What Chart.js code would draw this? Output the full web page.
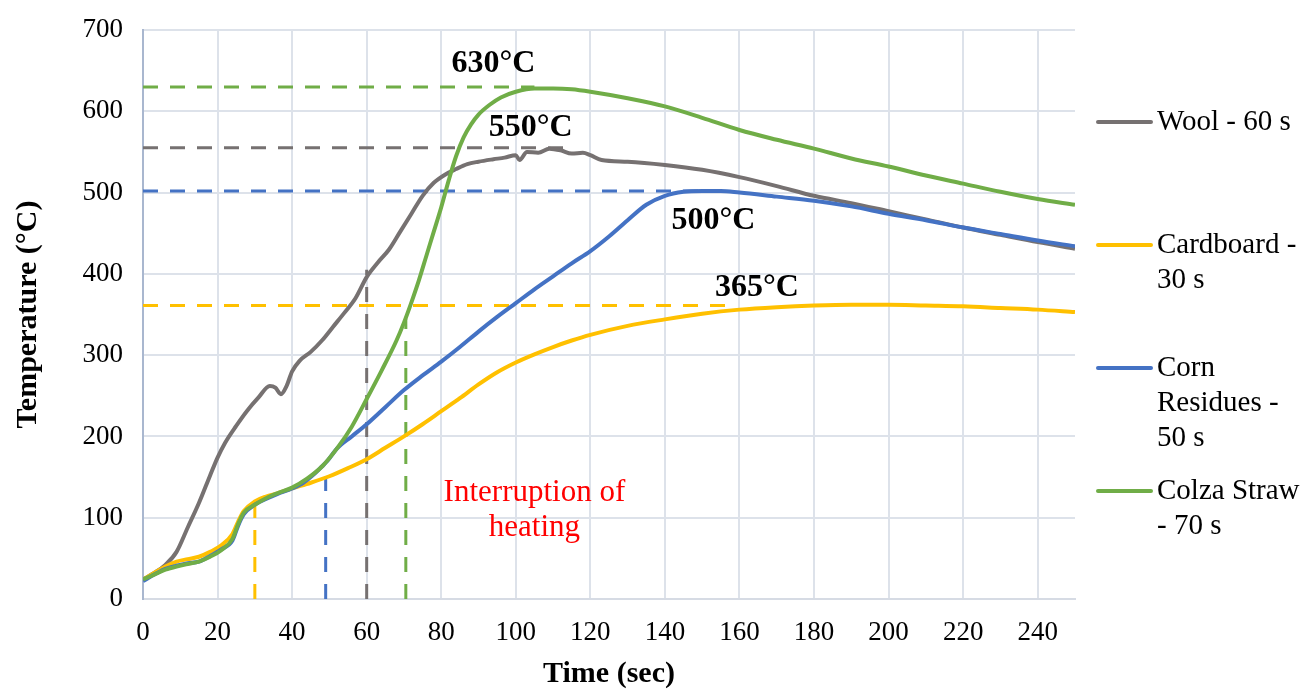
<!DOCTYPE html>
<html>
<head>
<meta charset="utf-8">
<script src="https://cdn.jsdelivr.net/npm/chart.js@4.4.1/dist/chart.umd.min.js"></script>
<style>
  body { margin: 0; background: #ffffff; }
  #wrap { width: 1304px; height: 689px; }
</style>
</head>
<body>
<div id="wrap"><canvas id="tempChart" width="1304" height="689"></canvas></div>
<script>
// Données (temps en s, température en °C)
const woolTime = [0, 3, 6, 9, 12, 15, 18, 20, 22, 25, 28, 31, 34, 35.5, 37, 38.5, 40, 42, 45, 48, 51, 54, 57, 60, 63, 66, 69, 72, 75, 78, 81, 84, 87, 90, 94, 97, 100, 101, 103, 106, 109, 112, 115, 118, 120, 123, 130, 140, 150, 160, 170, 180, 190, 200, 210, 220, 230, 240, 250];
const woolTemp = [24, 32, 42, 58, 88, 118, 152, 174, 192, 213, 232, 248, 262, 260, 252, 262, 280, 293, 304, 318, 335, 352, 370, 396, 414, 430, 452, 474, 496, 512, 522, 529, 535, 538, 541, 543, 546, 540, 550, 549, 554, 552, 548, 549, 546, 540, 538, 534, 528, 519, 508, 496, 487, 477, 467, 457, 448, 439, 431];

const cardboardTime = [0, 3, 6, 9, 12, 15, 18, 21, 24, 25.5, 27, 30, 33, 36, 40, 45, 50, 55, 60, 65, 70, 75, 80, 85, 90, 95, 100, 105, 110, 115, 120, 130, 140, 150, 160, 170, 180, 190, 200, 210, 220, 230, 240, 250];
const cardboardTemp = [24, 32, 40, 46, 49, 52, 58, 66, 80, 95, 108, 120, 126, 130, 136, 143, 151, 161, 172, 186, 200, 215, 231, 247, 264, 279, 291, 301, 310, 318, 325, 336, 344, 351, 356, 359, 361, 362, 362, 361, 360, 358, 356, 353];

const cornTime = [0, 3, 6, 9, 12, 15, 18, 21, 24, 25.5, 27, 30, 33, 36, 40, 43, 46, 48, 49.5, 52, 56, 60, 65, 70, 75, 80, 85, 90, 95, 100, 105, 110, 115, 120, 125, 130, 135, 140, 145, 150, 155, 160, 170, 180, 190, 200, 210, 220, 230, 240, 250];
const cornTemp = [22, 30, 37, 41, 44, 46, 53, 61, 72, 90, 104, 116, 123, 129, 136, 143, 154, 163, 170, 185, 200, 215, 236, 257, 275, 292, 310, 329, 347, 364, 381, 397, 413, 428, 446, 466, 485, 496, 501, 502, 502, 500, 495, 490, 483, 474, 466, 457, 449, 441, 434];

const colzaTime = [0, 3, 6, 9, 12, 15, 18, 21, 24, 25.5, 27, 30, 33, 36, 40, 44, 48, 52, 56, 60, 64, 68, 70, 72, 74, 76, 78, 80, 82, 84, 86, 88, 90, 93, 96, 100, 105, 110, 115, 120, 130, 140, 150, 160, 170, 180, 190, 200, 210, 220, 230, 240, 250];
const colzaTemp = [24, 30, 36, 40, 43, 46, 52, 60, 74, 92, 106, 116, 124, 130, 137, 148, 163, 185, 212, 246, 281, 318, 340, 365, 392, 422, 452, 482, 515, 545, 568, 584, 596, 608, 617, 624, 628, 628, 627, 624, 616, 606, 592, 577, 565, 554, 542, 532, 521, 511, 501, 492, 485];

// ordre : laine, carton, maïs, colza
const seriesNames = [['Wool - 60 s'], ['Cardboard -', '30 s'], ['Corn', 'Residues -', '50 s'], ['Colza Straw', '- 70 s']];
const peakTemps = [555, 361, 502, 630];
const peakEnd = [114, 157, 150, 105];
const stopTimes = [60, 30, 49, 70.5];
const stopTemps = [405, 118, 150, 345];
const peakLabels = ['550°C', '365°C', '500°C', '630°C'];
const peakLabelTime = [104, 164.7, 153, 94];
const peakLabelTemp = [580, 383, 465, 659];

const xTicks = [0, 20, 40, 60, 80, 100, 120, 140, 160, 180, 200, 220, 240];
const yTicks = [0, 100, 200, 300, 400, 500, 600, 700];

const colors = ['#767171', '#FFC000', '#4472C4', '#70AD47'];
const serif = "'Liberation Serif', 'Times New Roman', serif";

function toPoints(xs, ys) {
    return xs.map((x, i) => ({ x: x, y: ys[i] }));
}

const curves = [
    toPoints(woolTime, woolTemp),
    toPoints(cardboardTime, cardboardTemp),
    toPoints(cornTime, cornTemp),
    toPoints(colzaTime, colzaTemp)
];

const datasets = [];
curves.forEach((pts, i) => {
    datasets.push({
        label: seriesNames[i].join(' '),
        data: pts,
        borderColor: colors[i],
        borderWidth: 4,
        pointRadius: 0,
        cubicInterpolationMode: 'monotone',
        order: 4 - i
    });
});
// lignes pointillées : pic et arrêt du chauffage
colors.forEach((c, i) => {
    datasets.push({
        label: 'peak' + i,
        data: [{ x: 0, y: peakTemps[i] }, { x: peakEnd[i], y: peakTemps[i] }],
        borderColor: c,
        borderWidth: 3,
        borderDash: [15, 12],
        pointRadius: 0,
        order: 10
    });
    datasets.push({
        label: 'stop' + i,
        data: [{ x: stopTimes[i], y: 0 }, { x: stopTimes[i], y: stopTemps[i] }],
        borderColor: c,
        borderWidth: 3,
        borderDash: [15, 12],
        pointRadius: 0,
        order: 10
    });
});

// Textes + légende dessinés à la main
const extras = {
    id: 'extras',
    afterDatasetsDraw(chart) {
        const ctx = chart.ctx;
        const xs = chart.scales.x, ys = chart.scales.y;
        ctx.save();
        ctx.fillStyle = '#000';
        ctx.font = 'bold 32px ' + serif;
        ctx.textAlign = 'center';
        ctx.textBaseline = 'middle';
        peakLabels.forEach((t, i) => {
            ctx.fillText(t, xs.getPixelForValue(peakLabelTime[i]), ys.getPixelForValue(peakLabelTemp[i]));
        });
        ctx.fillStyle = '#ff0000';
        ctx.font = '31px ' + serif;
        ctx.fillText('Interruption of', xs.getPixelForValue(105), ys.getPixelForValue(131));
        ctx.fillText('heating', xs.getPixelForValue(105), ys.getPixelForValue(88));
        ctx.restore();
    },
    afterDraw(chart) {
        const ctx = chart.ctx;
        ctx.save();
        ctx.font = '29px ' + serif;
        ctx.textBaseline = 'middle';
        ctx.lineCap = 'round';
        seriesNames.forEach((lines, i) => {
            const y0 = 122 + i * 123;
            ctx.strokeStyle = colors[i];
            ctx.lineWidth = 4;
            ctx.beginPath();
            ctx.moveTo(1098, y0);
            ctx.lineTo(1151, y0);
            ctx.stroke();
            ctx.fillStyle = '#000';
            lines.forEach((txt, k) => ctx.fillText(txt, 1157, y0 + k * 35));
        });
        ctx.restore();
    }
};

new Chart(document.getElementById('tempChart'), {
    type: 'line',
    data: { datasets: datasets },
    options: {
        responsive: false,
        animation: false,
        layout: { padding: { top: 30, right: 229, left: 0, bottom: 0 } },
        plugins: { legend: { display: false }, tooltip: { enabled: false } },
        scales: {
            x: {
                type: 'linear',
                min: 0,
                max: 250,
                afterFit: s => { s.height = 90; },
                afterBuildTicks: s => { s.ticks = xTicks.map(v => ({ value: v })); },
                grid: { color: '#dde2ea', lineWidth: 2, drawTicks: false },
                border: { color: '#d6dbe4', width: 2 },
                ticks: { color: '#000', padding: 18, font: { family: serif, size: 27 } },
                title: {
                    display: true,
                    text: 'Time (sec)',
                    color: '#000',
                    padding: 0,
                    font: { family: serif, size: 30, weight: 'bold', lineHeight: 1 }
                }
            },
            y: {
                min: 0,
                max: 700,
                afterFit: s => { s.width = 143; },
                afterBuildTicks: s => { s.ticks = yTicks.map(v => ({ value: v })); },
                grid: { color: '#dde2ea', lineWidth: 2, drawTicks: true, tickLength: 18, tickColor: 'rgba(0,0,0,0)' },
                border: { color: '#a9b7cf', width: 2 },
                ticks: { color: '#000', padding: 2, font: { family: serif, size: 27 } },
                title: {
                    display: true,
                    text: 'Temperature (°C)',
                    color: '#000',
                    padding: 10,
                    font: { family: serif, size: 30, weight: 'bold' }
                }
            }
        }
    },
    plugins: [extras]
});
</script>
</body>
</html>
